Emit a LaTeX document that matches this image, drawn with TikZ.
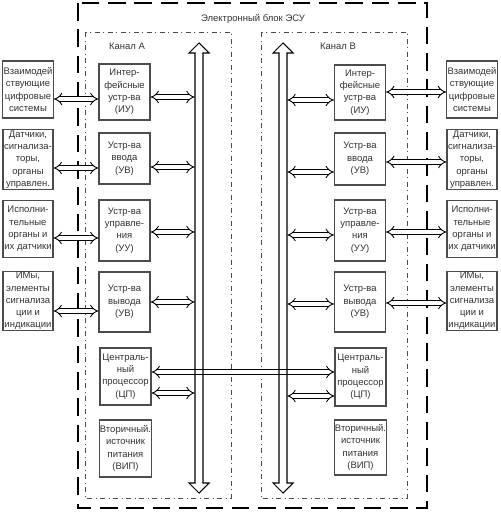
\documentclass[tikz,border=0pt]{standalone}
\usepackage{fontspec}
\setmainfont{Liberation Sans}
\usetikzlibrary{arrows.meta, positioning}

\begin{document}
\begin{tikzpicture}[x=0.02cm, y=-0.02cm,
            block/.style={rectangle, draw=black!70, line width=0.6pt, minimum width=1.02cm, inner sep=0.5pt, align=center, font=\fontsize{5.4}{7}\selectfont, text=black!80},
            extbox/.style={block, minimum width=1cm, minimum height=1.14cm},
            link/.style={double, double distance=2pt, line width=0.5pt, {Implies[scale=1.5]}-{Implies[scale=1.5]}},
            bus/.style={draw, line width=0.6pt, line join=miter},
            channel/.style={draw=black!70, dash dot, line width=0.5pt},
            chlabel/.style={font=\fontsize{5.4}{7}\selectfont, text=black!80}
        ]
            \useasboundingbox (0,0) rectangle (500,513);

% Electronic unit and channels
            \draw[line width=0.7pt, dash pattern=on 10pt off 5pt] (78,3) rectangle (427,508);
            \node[chlabel] (unit) at (253,19) {Электронный блок ЭСУ};
            \draw[channel] (85,32) rectangle (231,498);
            \draw[channel] (261,32) rectangle (407,498);
            \node[chlabel] (chA) at (127,46) {Канал А};
            \node[chlabel] (chB) at (338,46) {Канал В};

% Channel A blocks
            \node[block, minimum height=1.12cm] (iuA) at (124.5,92) {Интер-\\фейсные\\устр-ва\\(ИУ)};
            \node[block, minimum height=1.02cm] (inA) at (124.5,158.5) {Устр-ва\\ввода\\(УВ)};
            \node[block, minimum height=1.22cm] (uuA) at (124.5,230.5) {Устр-ва\\управле-\\ния\\(УУ)};
            \node[block, minimum height=1.2cm] (outA) at (124.5,302) {Устр-ва\\вывода\\(УВ)};
            \node[block, minimum height=1.14cm] (cpA) at (125.5,376.5) {Централь-\\ный\\процессор\\(ЦП)};
            \node[block, minimum height=1.14cm] (vipA) at (125.5,448.5) {Вторичный.\\источник\\питания\\(ВИП)};

% Channel B blocks
            \node[block, minimum height=1.1cm] (iuB) at (360,92.5) {Интер-\\фейсные\\устр-ва\\(ИУ)};
            \node[block, minimum height=1.04cm] (inB) at (360,159) {Устр-ва\\ввода\\(УВ)};
            \node[block, minimum height=1.22cm] (uuB) at (360,230.5) {Устр-ва\\управле-\\ния\\(УУ)};
            \node[block, minimum height=1.2cm] (outB) at (360,302) {Устр-ва\\вывода\\(УВ)};
            \node[block, minimum height=1.16cm] (cpB) at (360.5,377) {Централь-\\ный\\процессор\\(ЦП)};
            \node[block, minimum height=1.1cm] (vipB) at (360.5,447.5) {Вторичный.\\источник\\питания\\(ВИП)};

% External systems
            \node[extbox] (extL1) at (28,89.5) {Взаимодей\\ствующие\\цифровые\\системы};
            \node[extbox] (extL2) at (28,159.5) {Датчики,\\сигнализа-\\торы,\\органы\\управлен.};
            \node[extbox] (extL3) at (28,229) {Исполни-\\тельные\\органы и\\их датчики};
            \node[extbox] (extL4) at (28,301) {ИМы,\\элементы\\сигнализа\\ции и\\индикации};
            \node[extbox] (extR1) at (472,89.5) {Взаимодей\\ствующие\\цифровые\\системы};
            \node[extbox] (extR2) at (472,159.5) {Датчики,\\сигнализа-\\торы,\\органы\\управлен.};
            \node[extbox] (extR3) at (472,229) {Исполни-\\тельные\\органы и\\их датчики};
            \node[extbox] (extR4) at (472,301) {ИМы,\\элементы\\сигнализа\\ции и\\индикации};

% Buses (shafts as anchors)
            \node[inner sep=0, minimum width=0.16cm, minimum height=8.6cm] (busA) at (199,268) {};
            \node[inner sep=0, minimum width=0.16cm, minimum height=8.6cm] (busB) at (283,268) {};

% Link between processors
            \draw[link] (cpA.east |- 0,372) -- (cpB.west |- 0,372);

            \draw[bus] (195,53) -- (189,53) -- (199,43) -- (209,53) -- (203,53) -- (203,483) -- (209,483) -- (199,493) -- (189,483) -- (195,483) -- cycle;
            \draw[bus] (279,53) -- (273,53) -- (283,43) -- (293,53) -- (287,53) -- (287,483) -- (293,483) -- (283,493) -- (273,483) -- (279,483) -- cycle;

% Left side links
            \draw[link] (extL1.east |- 0,99) -- (iuA.west |- 0,99);
            \draw[link] (extL2.east |- 0,168) -- (inA.west |- 0,168);
            \draw[link] (extL3.east |- 0,238) -- (uuA.west |- 0,238);
            \draw[link] (extL4.east |- 0,311) -- (outA.west |- 0,311);

            \draw[link] (iuA.east |- 0,97) -- (busA.west |- 0,97);
            \draw[link] (inA.east |- 0,167) -- (busA.west |- 0,167);
            \draw[link] (uuA.east |- 0,232) -- (busA.west |- 0,232);
            \draw[link] (outA.east |- 0,302) -- (busA.west |- 0,302);
            \draw[link] (cpA.east |- 0,393) -- (busA.west |- 0,393);

% Right side links
            \draw[link] (busB.east |- 0,100) -- (iuB.west |- 0,100);
            \draw[link] (busB.east |- 0,172) -- (inB.west |- 0,172);
            \draw[link] (busB.east |- 0,235) -- (uuB.west |- 0,235);
            \draw[link] (busB.east |- 0,304) -- (outB.west |- 0,304);
            \draw[link] (busB.east |- 0,396) -- (cpB.west |- 0,396);

            \draw[link] (iuB.east |- 0,92) -- (extR1.west |- 0,92);
            \draw[link] (inB.east |- 0,162) -- (extR2.west |- 0,162);
            \draw[link] (uuB.east |- 0,232) -- (extR3.west |- 0,232);
            \draw[link] (outB.east |- 0,303) -- (extR4.west |- 0,303);

        \end{tikzpicture}
\end{document}
